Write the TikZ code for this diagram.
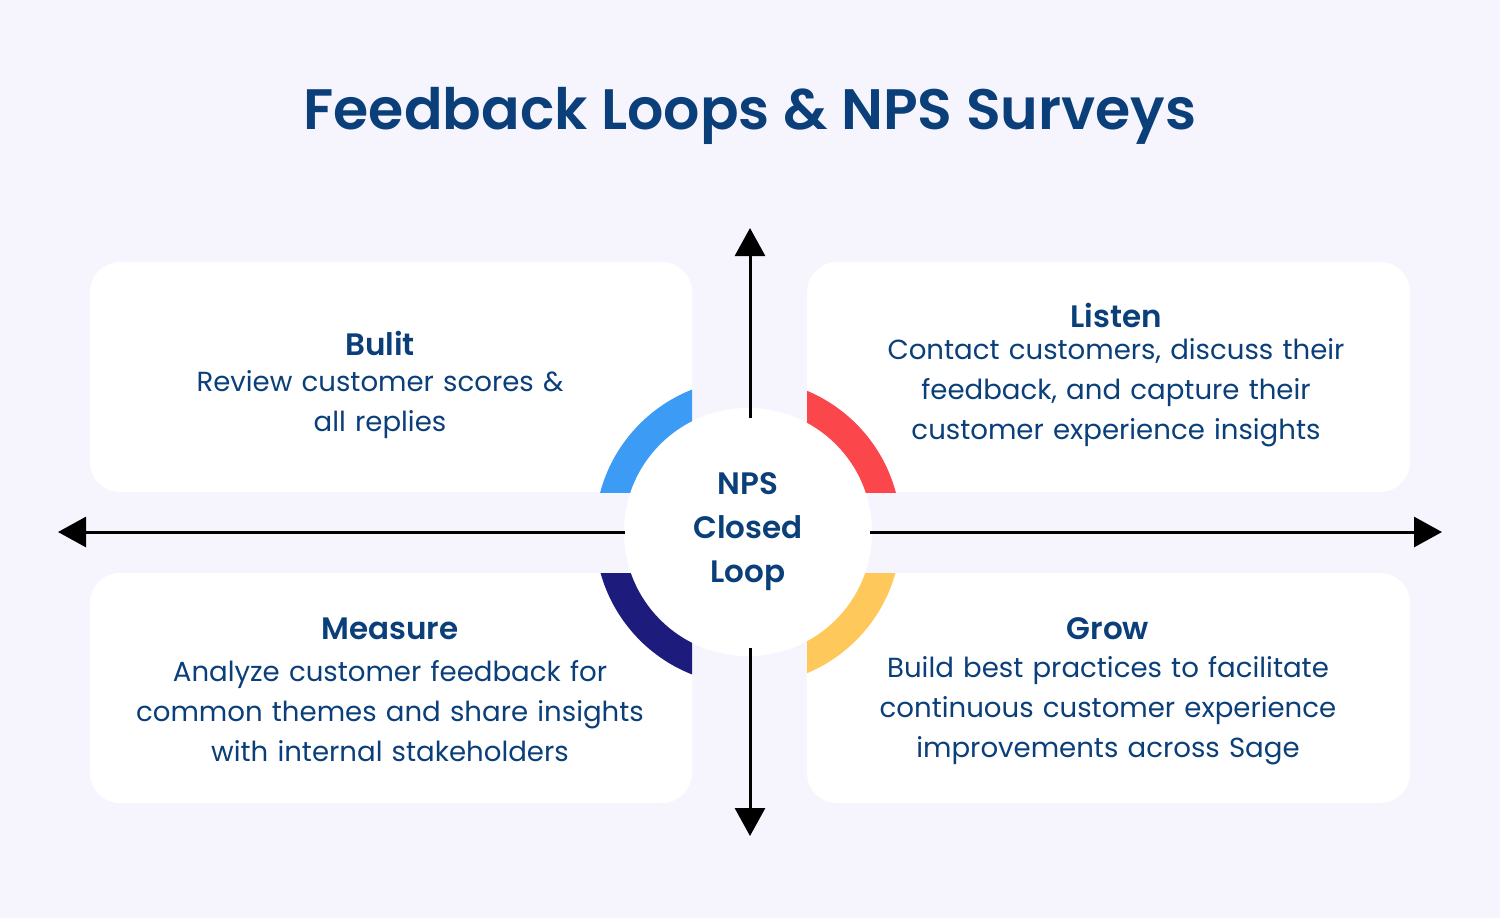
\documentclass[tikz,border=0pt]{standalone}
\usepackage{fontspec}
\setmainfont{Poppins}[BoldFont={Poppins SemiBold}]
\usetikzlibrary{arrows.meta}
\definecolor{bg}{HTML}{F6F5FE}
\definecolor{navy}{HTML}{0B3F7A}
\definecolor{cblue}{HTML}{3C9CF5}
\definecolor{cred}{HTML}{FB464C}
\definecolor{cdark}{HTML}{1D1C7C}
\definecolor{cyel}{HTML}{FFC85A}
\begin{document}
\begin{tikzpicture}[x=0.5pt,y=-0.5pt,
  box/.style={fill=white,rounded corners=15pt},
  head/.style={text=navy,font=\fontsize{15.5}{18}\selectfont\bfseries,align=center},
  body/.style={text=navy,font=\fontsize{13.8}{20}\selectfont,align=center,text width=330pt},
  axis/.style={line width=1.5pt,-{Triangle[length=14pt,width=15pt]}}]
\fill[bg] (0,0) rectangle (1500,918);
\useasboundingbox (0,0) rectangle (1500,918);
\node[text=navy,font=\fontsize{28.5}{32}\selectfont\bfseries] (title) at (750,116) {Feedback Loops \& NPS Surveys};
\fill[box] (90,262) rectangle (692,492);
\fill[box] (807,262) rectangle (1410,492);
\fill[box] (90,573) rectangle (692,803);
\fill[box] (807,573) rectangle (1410,803);
\coordinate (c) at (748,532);
\begin{scope}\clip (90,262) rectangle (692,492);
\fill[cblue] (c) circle[radius=153];\end{scope}
\begin{scope}\clip (807,262) rectangle (1410,492);
\fill[cred] (c) circle[radius=153];\end{scope}
\begin{scope}\clip (90,573) rectangle (692,803);
\fill[cdark] (c) circle[radius=153];\end{scope}
\begin{scope}\clip (807,573) rectangle (1410,803);
\fill[cyel] (c) circle[radius=153];\end{scope}
\node[circle,fill=white,minimum size=124pt,inner sep=0pt,text=navy,align=center,
  font=\fontsize{15.5}{22}\selectfont\bfseries] (hub) at (c) {NPS\\Closed\\Loop};
\coordinate (t) at (750,228); \coordinate (b) at (750,836);
\coordinate (l) at (58,532); \coordinate (r) at (1442,532);
\draw[axis] (750,418) -- (t);
\draw[axis] (750,648) -- (b);
\draw[axis] (625,532) -- (l);
\draw[axis] (870,532) -- (r);
\node[head] (h1) at (380,343) {Bulit};
\node[body] (b1) at (380,405) {Review customer scores \&\\all replies};
\node[head] (h2) at (1116,315) {Listen};
\node[body] (b2) at (1116,393) {Contact customers, discuss their\\feedback, and capture their\\customer experience insights};
\node[head] (h3) at (390,629) {Measure};
\node[body] (b3) at (390,711) {Analyze customer feedback for\\common themes and share insights\\with internal stakeholders};
\node[head] (h4) at (1108,629) {Grow};
\node[body] (b4) at (1108,711) {Build best practices to facilitate\\continuous customer experience\\improvements across Sage};
\end{tikzpicture}
\end{document}
